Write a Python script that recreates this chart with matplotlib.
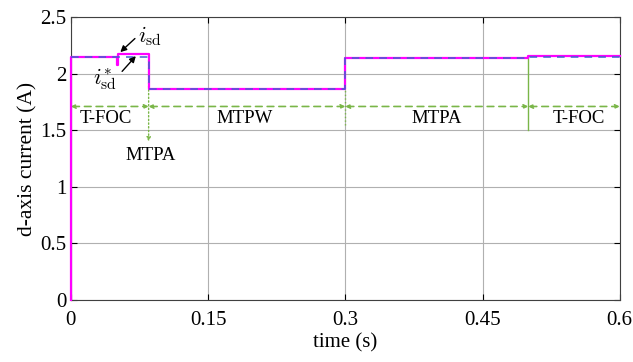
import matplotlib
matplotlib.use('Agg')
import matplotlib.pyplot as plt
import numpy as np

plt.rcParams['font.family'] = ['Liberation Serif', 'DejaVu Serif']
plt.rcParams['mathtext.fontset'] = 'cm'

# measured d-axis current (step points)
t_isd = [0, 0, 0.05, 0.05, 0.0515, 0.0515, 0.085, 0.085, 0.3, 0.3, 0.5, 0.5, 0.6]
isd = [0, 2.15, 2.15, 2.08, 2.08, 2.175, 2.175, 1.865, 1.865, 2.14, 2.14, 2.155, 2.155]
# reference d-axis current
t_ref = [0, 0.085, 0.085, 0.3, 0.3, 0.5, 0.5, 0.6]
isd_ref = [2.15, 2.15, 1.86, 1.86, 2.135, 2.135, 2.15, 2.15]

# mode switching instants and labels
t_switch = [0, 0.085, 0.3, 0.5, 0.6]
modes = ['T-FOC', 'MTPW', 'MTPA', 'T-FOC']
mode_x = [0.038, 0.19, 0.4, 0.555]

green = '#7ab648'

fig = plt.figure(figsize=(6.33, 3.62), dpi=100)
ax = fig.add_axes([0.112, 0.171, 0.867, 0.782])

ax.plot(t_isd, isd, color='#ff00ff', lw=1.6, zorder=3, clip_on=False)
ax.plot(t_ref, isd_ref, color='#4060d0', lw=1.1, ls=(0, (5, 4)), zorder=4)

# mode arrows
y_arr = 1.71
for a, b in zip(t_switch[:-1], t_switch[1:]):
    ax.annotate('', xy=(b, y_arr), xytext=(a, y_arr),
                arrowprops=dict(arrowstyle='<|-|>', color=green, lw=1.2,
                                ls=(0, (4, 3)), mutation_scale=6,
                                shrinkA=0, shrinkB=0), zorder=2)
for x, m in zip(mode_x, modes):
    ax.text(x, 1.60, m, ha='center', va='center', fontsize=13.5)

# switching lines
ax.plot([0.3, 0.3], [1.55, 1.86], color=green, lw=1.0, ls=':', zorder=2)
ax.plot([0.5, 0.5], [1.5, 2.135], color=green, lw=1.0, zorder=2)
ax.annotate('', xy=(0.085, 1.40), xytext=(0.085, 2.15),
            arrowprops=dict(arrowstyle='-|>', color=green, lw=1.0, ls=':',
                            mutation_scale=6, shrinkA=0, shrinkB=0), zorder=2)
ax.text(0.087, 1.28, 'MTPA', ha='center', va='center', fontsize=13.5)

# curve labels
akw = dict(arrowstyle='-|>', color='k', lw=1.0, mutation_scale=9, shrinkA=0, shrinkB=0)
ax.annotate('', xy=(0.054, 2.19), xytext=(0.070, 2.31), arrowprops=akw, zorder=5)
ax.annotate('', xy=(0.071, 2.155), xytext=(0.056, 2.02), arrowprops=akw, zorder=5)
ax.text(0.073, 2.33, r'$i_{\mathrm{sd}}$', fontsize=16, ha='left', va='center')
ax.text(0.024, 1.95, r'$i^{*}_{\mathrm{sd}}$', fontsize=16, ha='left', va='center')

ax.set_xlim(0, 0.6)
ax.set_ylim(0, 2.5)
ax.set_xticks([0, 0.15, 0.3, 0.45, 0.6])
ax.set_xticklabels(['0', '0.15', '0.3', '0.45', '0.6'])
ax.set_yticks([0, 0.5, 1, 1.5, 2, 2.5])
ax.set_yticklabels(['0', '0.5', '1', '1.5', '2', '2.5'])
ax.grid(True, color='#b0b0b0', lw=0.8)
ax.tick_params(direction='in', top=True, right=True, labelsize=15, length=4, pad=3)
ax.tick_params(axis='x', pad=8)
for s in ax.spines.values():
    s.set_color('#404040')
ax.set_xlabel('time (s)', fontsize=15, labelpad=2)
ax.set_ylabel('d-axis current (A)', fontsize=15.5, labelpad=2)

fig.savefig('out.png', dpi=100)
